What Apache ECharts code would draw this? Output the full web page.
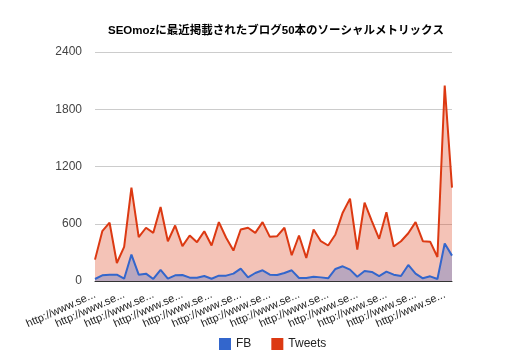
<!DOCTYPE html>
<html>
<head>
<meta charset="utf-8">
<script src="https://cdn.jsdelivr.net/npm/echarts@6/dist/echarts.min.js"></script>
<style>
    html, body { margin: 0; padding: 0; background: #fff; }
    #chart { width: 521px; height: 351px; }
</style>
</head>
<body>
<div id="chart"></div>
<script>
    // 50 blog posts, labels are cut off in the original
    var categories = [];
    for (var i = 0; i < 50; i++) {
        categories.push('http://www.se...');
    }
    var fbValues = [21, 59, 66, 66, 24, 277, 66, 77, 21, 116,
        24, 59, 63, 35, 35, 52, 24, 56, 56, 77,
        130, 38, 84, 112, 66, 63, 84, 112, 31, 31,
        45, 38, 28, 126, 154, 119, 45, 105, 95, 52,
        98, 66, 52, 168, 77, 28, 49, 21, 393, 266];
    var tweetValues = [224, 522, 611, 189, 358, 979, 459, 558, 505, 775,
        417, 582, 365, 477, 407, 522, 372, 617, 453, 319,
        540, 558, 505, 617, 463, 470, 558, 270, 477, 242,
        540, 417, 372, 488, 716, 863, 330, 821, 628, 442,
        720, 362, 417, 500, 617, 417, 412, 252, 2049, 979];
    var yTicks = [0, 600, 1200, 1800, 2400];

    var chart = echarts.init(document.getElementById('chart'));
    var option = {
        animation: false,
        color: ['#3366cc', '#dc3912'],
        title: {
            text: 'SEOmozに最近掲載されたブログ50本のソーシャルメトリックス',
            left: 271,
            top: 20,
            textAlign: 'center',
            textStyle: {
                fontFamily: 'Arial, "Noto Sans CJK JP"',
                fontSize: 11.5,
                fontWeight: 'bold',
                color: '#000'
            }
        },
        legend: {
            left: 219,
            bottom: 1,
            padding: 0,
            itemWidth: 12,
            itemHeight: 12,
            itemGap: 20,
            icon: 'rect',
            textStyle: {fontFamily: 'Arial', fontSize: 12, color: '#222'},
            data: ['FB', 'Tweets']
        },
        grid: {left: 95, right: 69, top: 52, bottom: 70},
        xAxis: {
            type: 'category',
            boundaryGap: false,
            data: categories,
            axisLine: {lineStyle: {color: '#333', width: 1}},
            axisTick: {show: false},
            axisLabel: {
                interval: function (index) {
                    return index % 4 === 1;
                },
                rotate: 24,
                margin: 10,
                padding: [0, 8, 0, 0],
                fontFamily: 'Arial',
                fontSize: 11,
                color: '#222'
            }
        },
        yAxis: {
            type: 'value',
            min: yTicks[0],
            max: yTicks[yTicks.length - 1],
            interval: 600,
            axisLine: {show: false},
            axisTick: {show: false},
            axisLabel: {
                margin: 13,
                fontFamily: 'Arial',
                fontSize: 12,
                color: '#444',
                formatter: function (v) {
                    return String(v);
                }
            },
            splitLine: {lineStyle: {color: '#cccccc'}}
        },
        series: [
            {
                name: 'Tweets',
                type: 'line',
                data: tweetValues,
                symbol: 'none',
                color: '#dc3912',
                lineStyle: {width: 2},
                areaStyle: {opacity: 0.3},
                z: 2
            },
            {
                name: 'FB',
                type: 'line',
                data: fbValues,
                symbol: 'none',
                color: '#3366cc',
                lineStyle: {width: 2},
                areaStyle: {opacity: 0.3},
                z: 3
            }
        ]
    };
    chart.setOption(option);
</script>
</body>
</html>
